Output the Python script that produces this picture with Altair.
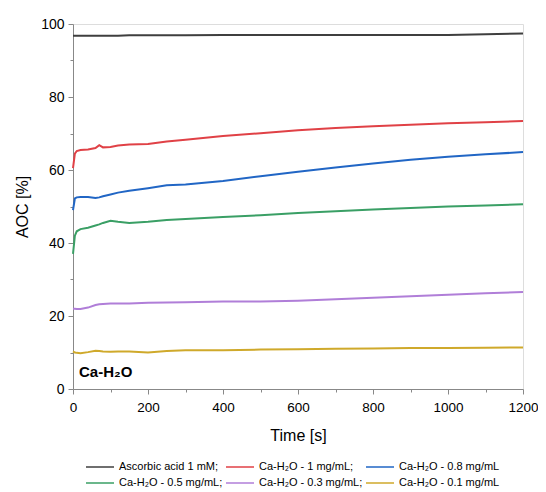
import altair as alt
import pandas as pd

times = [0, 5, 10, 20, 40, 60, 70, 80, 100, 120, 150, 200, 250, 300, 400, 500, 600, 700, 800, 900, 1000, 1100, 1200]

ascorbic = [96.8, 96.8, 96.8, 96.8, 96.8, 96.8, 96.8, 96.8, 96.8, 96.8, 96.9, 96.9, 96.9, 96.9, 97.0, 97.0, 97.0, 97.0, 97.0, 97.0, 97.0, 97.2, 97.4]
ca_1 = [60.5, 64.5, 65.2, 65.5, 65.6, 66.0, 66.8, 66.2, 66.3, 66.7, 67.0, 67.1, 67.8, 68.3, 69.3, 70.1, 70.9, 71.5, 72.0, 72.4, 72.8, 73.1, 73.4]
ca_08 = [49.0, 52.2, 52.5, 52.6, 52.6, 52.3, 52.5, 52.8, 53.3, 53.8, 54.3, 55.0, 55.8, 56.0, 57.0, 58.3, 59.5, 60.7, 61.8, 62.8, 63.6, 64.3, 64.9]
ca_05 = [37.0, 42.0, 43.2, 43.8, 44.2, 44.8, 45.1, 45.5, 46.1, 45.8, 45.5, 45.8, 46.3, 46.6, 47.1, 47.6, 48.2, 48.7, 49.2, 49.6, 50.0, 50.3, 50.6]
ca_03 = [22.0, 22.0, 21.9, 21.9, 22.3, 23.0, 23.2, 23.3, 23.4, 23.4, 23.4, 23.6, 23.7, 23.8, 24.0, 24.0, 24.2, 24.6, 25.0, 25.4, 25.8, 26.2, 26.6]
ca_01 = [10.3, 10.0, 9.9, 9.8, 10.1, 10.5, 10.4, 10.3, 10.2, 10.3, 10.3, 10.0, 10.4, 10.6, 10.6, 10.8, 10.9, 11.0, 11.1, 11.2, 11.2, 11.3, 11.4]

series_names = [
    "Ascorbic acid 1 mM;",
    "Ca-H\u2082O - 1 mg/mL;",
    "Ca-H\u2082O - 0.8 mg/mL",
    "Ca-H\u2082O - 0.5 mg/mL;",
    "Ca-H\u2082O - 0.3 mg/mL;",
    "Ca-H\u2082O - 0.1 mg/mL",
]
series_values = [ascorbic, ca_1, ca_08, ca_05, ca_03, ca_01]
colors = ["#3f3f3f", "#e04146", "#2166c5", "#3a9f65", "#b07ed8", "#cfa92b"]

x_major = [0, 200, 400, 600, 800, 1000, 1200]
x_minor = [100, 300, 500, 700, 900, 1100]
y_major = [0, 20, 40, 60, 80, 100]
y_minor = [10, 30, 50, 70, 90]

rows = []
for name, vals in zip(series_names, series_values):
    for t, v in zip(times, vals):
        rows.append({"time": t, "aoc": v, "series": name})
df = pd.DataFrame(rows)

FONT = "Liberation Sans"

xscale = alt.Scale(domain=[0, 1200], nice=False, zero=False)
yscale = alt.Scale(domain=[0, 100], nice=False)

lines = alt.Chart(df).mark_line(strokeWidth=2).encode(
    x=alt.X("time:Q", scale=xscale,
            axis=alt.Axis(title="Time [s]", values=x_major, format="d", tickSize=5, labelFontSize=13.5,
                          titleFontSize=16, titleFontWeight="normal", grid=False, labelFlush=False,
                          labelPadding=6, titlePadding=14, orient="bottom")),
    y=alt.Y("aoc:Q", scale=yscale,
            axis=alt.Axis(title="AOC [%]", values=y_major, tickSize=5, labelFontSize=14,
                          titleFontSize=16, titleFontWeight="normal", grid=False, labelFlush=False,
                          labelPadding=4, titlePadding=10, orient="left")),
    color=alt.Color("series:N", sort=series_names,
                    scale=alt.Scale(domain=series_names, range=colors),
                    legend=alt.Legend(title=None, orient="none", legendX=12, legendY=437,
                                      direction="horizontal",
                                      columns=3, symbolType="M-1,0H4.6", symbolStrokeWidth=1.5,
                                      symbolSize=100, labelFontSize=11, labelFont=FONT,
                                      columnPadding=0, rowPadding=5, labelOffset=22)),
)

minor_df = pd.DataFrame({"time": [0, 1200], "aoc": [0, 100]})
minor = alt.Chart(minor_df).mark_point(opacity=0).encode(
    x=alt.X("time:Q", scale=xscale,
            axis=alt.Axis(title=None, values=x_minor, tickSize=3, labels=False,
                          grid=False, orient="bottom", domain=False)),
    y=alt.Y("aoc:Q", scale=yscale,
            axis=alt.Axis(title=None, values=y_minor, tickSize=3, labels=False,
                          grid=False, orient="left", domain=False)),
)

label = alt.Chart(pd.DataFrame({"t": ["Ca-H\u2082O"]})).mark_text(
    align="left", baseline="middle", fontSize=15, fontWeight="bold", font=FONT, color="black"
).encode(x=alt.value(6), y=alt.value(348), text="t:N")

chart = alt.layer(lines, minor, label).resolve_axis(x="independent", y="independent").properties(
    width=450, height=365,
    autosize=alt.AutoSizeParams(type="none"),
    padding={"left": 65, "top": 16, "right": 15, "bottom": 99},
).configure_view(stroke="#222", strokeWidth=1.2).configure_axis(
    domainColor="black", tickColor="black", labelColor="black", titleColor="black",
    labelFont=FONT, titleFont=FONT, domainWidth=1.2
).configure(background="white")

chart.save("out.html", embed_options={"renderer": "svg", "actions": False})
